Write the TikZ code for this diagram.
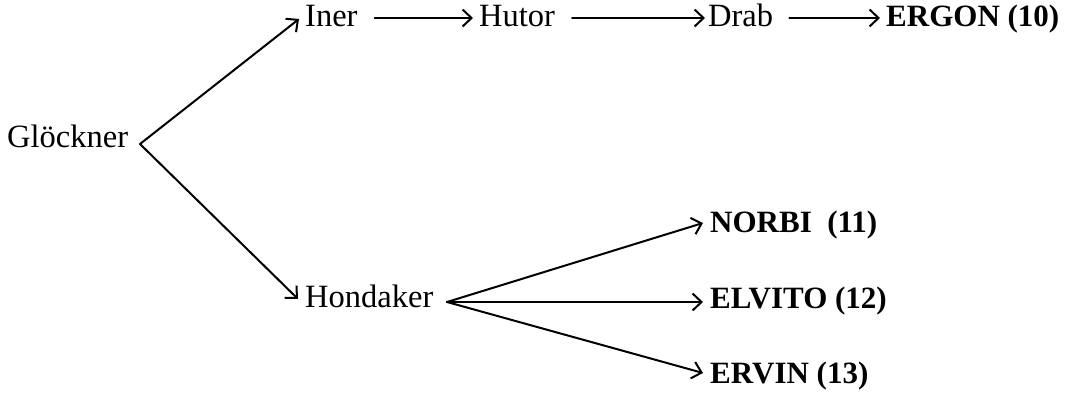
\documentclass[tikz,border=0pt]{standalone}
\usepackage{fontspec}
\setmainfont{Liberation Serif}
\usetikzlibrary{arrows.meta}
\tikzset{
  lbl/.style={inner sep=0pt, text height=18pt, text depth=0pt, anchor=base west, font=\fontsize{32.5}{38}\selectfont},
  blbl/.style={lbl, font=\fontsize{31}{38}\selectfont\bfseries},
  arr/.style={line width=2pt, -{Straight Barb[length=9pt,width=17pt,line width=2pt]}, line cap=round}
}
\begin{document}
\begin{tikzpicture}[x=1pt,y=-1pt]
\useasboundingbox (0,0) rectangle (1065,398);
\node[lbl] (glo) at (7,148) {Glöckner};
\node[lbl] (iner) at (305,27) {Iner};
\node[lbl] (hutor) at (479,27) {Hutor};
\node[lbl] (drab) at (708,27) {Drab};
\node[blbl] (ergon) at (886,27) {ERGON (10)};
\node[lbl] (hond) at (305,307) {Hondaker};
\node[blbl] (norbi) at (710,233) {NORBI\ \ (11)};
\node[blbl] (elvito) at (710,308) {ELVITO (12)};
\node[blbl] (ervin) at (710,383) {ERVIN (13)};
\coordinate (gb) at (140,144);
\coordinate (hb) at (447,302);
\draw[arr] (gb) -- ([xshift=-6pt,yshift=-1pt]iner.west);
\draw[arr] (gb) -- ([xshift=-7pt,yshift=-1pt]hond.west);
\draw[arr] ([xshift=17pt]iner.east) -- ([xshift=-6pt]hutor.west);
\draw[arr] ([xshift=17pt]hutor.east) -- ([xshift=-3pt]drab.west);
\draw[arr] ([xshift=16pt]drab.east) -- ([xshift=-6pt]ergon.west);
\draw[arr] (hb) -- ([xshift=-7pt,yshift=1pt]norbi.west);
\draw[arr] (hb) -- ([xshift=-7pt,yshift=-3pt]elvito.west);
\draw[arr] (hb) -- ([xshift=-7pt,yshift=1pt]ervin.west);
\end{tikzpicture}
\end{document}
